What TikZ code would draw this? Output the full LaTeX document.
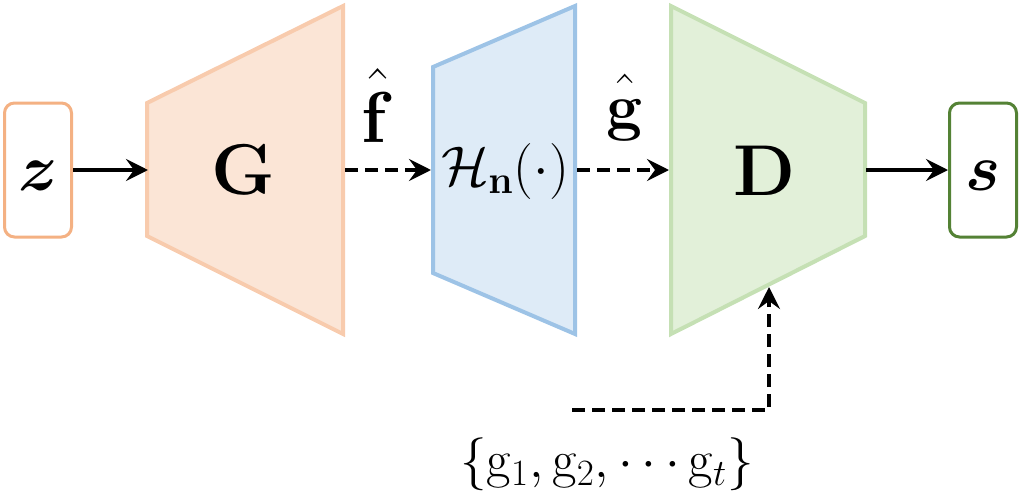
\documentclass[tikz,border=0pt]{standalone}
\usepackage{fix-cm}
\usepackage{amsmath, amssymb, bm}
\usepackage{tikz}
\usetikzlibrary{arrows.meta}

\definecolor{genfill}{HTML}{FBE5D6}
\definecolor{genline}{HTML}{F8CBAD}
\definecolor{zline}{HTML}{F4B183}
\definecolor{hfill}{HTML}{DEEBF7}
\definecolor{hline}{HTML}{9DC3E6}
\definecolor{disfill}{HTML}{E2F0D9}
\definecolor{disline}{HTML}{C5E0B4}
\definecolor{sline}{HTML}{548235}

\tikzset{
    iobox/.style = {draw, line width=1.5pt, rounded corners=5pt, fill=white,
                    minimum width=33.5pt, minimum height=67pt, inner sep=0pt,
                    text height=20.5pt, text depth=0pt,
                    font=\fontsize{33}{35}\selectfont},
    block/.style = {line width=2pt, line join=miter},
    arr/.style = {line width=1.8pt, -{Stealth[length=11pt, width=11pt, inset=4pt]}},
    dasharr/.style = {arr, dash pattern=on 6.5pt off 3.5pt},
    big/.style = {font=\fontsize{36}{38}\selectfont},
    hatlabel/.style = {anchor=base},
}

\begin{document}
\begin{tikzpicture}[x=0.5pt, y=-0.5pt]
                \useasboundingbox (0,0) rectangle (1022,498);
                % the three blocks
                \draw[block, draw=genline, fill=genfill] (147,103) -- (343,6) -- (343,334) -- (147,236) -- cycle;
                \draw[block, draw=hline, fill=hfill] (433,67) -- (575,6) -- (575,334) -- (433,273) -- cycle;
                \draw[block, draw=disline, fill=disfill] (671,6) -- (865,103) -- (865,236) -- (671,334) -- cycle;
                \node[big] (G) at (243,170) {$\mathbf{G}$};
                \node[font=\fontsize{28}{30}\selectfont] (H) at (505,171) {$\mathcal{H}_{\mathbf{n}}(\cdot)$};
                \node[big] (D) at (765,171) {$\mathbf{D}$};
                % in / out
                \node[iobox, draw=zline] (z) at (38,170) {$\bm{z}$};
                \node[iobox, draw=sline] (s) at (983,170) {$\bm{s}$};
                \coordinate (Gin) at (148,170);
                \coordinate (Gout) at (345,170);
                \coordinate (Hin) at (431,170);
                \coordinate (Hout) at (577,170);
                \coordinate (Din) at (669,170);
                \coordinate (Dout) at (866,170);
                \coordinate (Dbot) at (769,287);
                \coordinate (gs) at (572,410);
                \draw[arr] (z) -- (Gin);
                \draw[dasharr] (Gout) -- (Hin);
                \draw[dasharr] (Hout) -- (Din);
                \draw[arr] (Dout) -- (s);
                \draw[dasharr] (gs) -| (Dbot);
                \node[hatlabel, font=\fontsize{36}{38}\selectfont] (fhat) at (378,142) {$\hat{\mathbf{f}\rule{0pt}{0.76em}}$};
                \node[hatlabel, font=\fontsize{32}{34}\selectfont] (ghat) at (625,128) {$\hat{\mathbf{g}\rule{0pt}{0.58em}}$};
                \node[font=\fontsize{26.5}{28}\selectfont] (gset) at (607,464) {$\{\mathrm{g}_1, \mathrm{g}_2, \cdots \mathrm{g}_t\}$};
            \end{tikzpicture}
\end{document}
